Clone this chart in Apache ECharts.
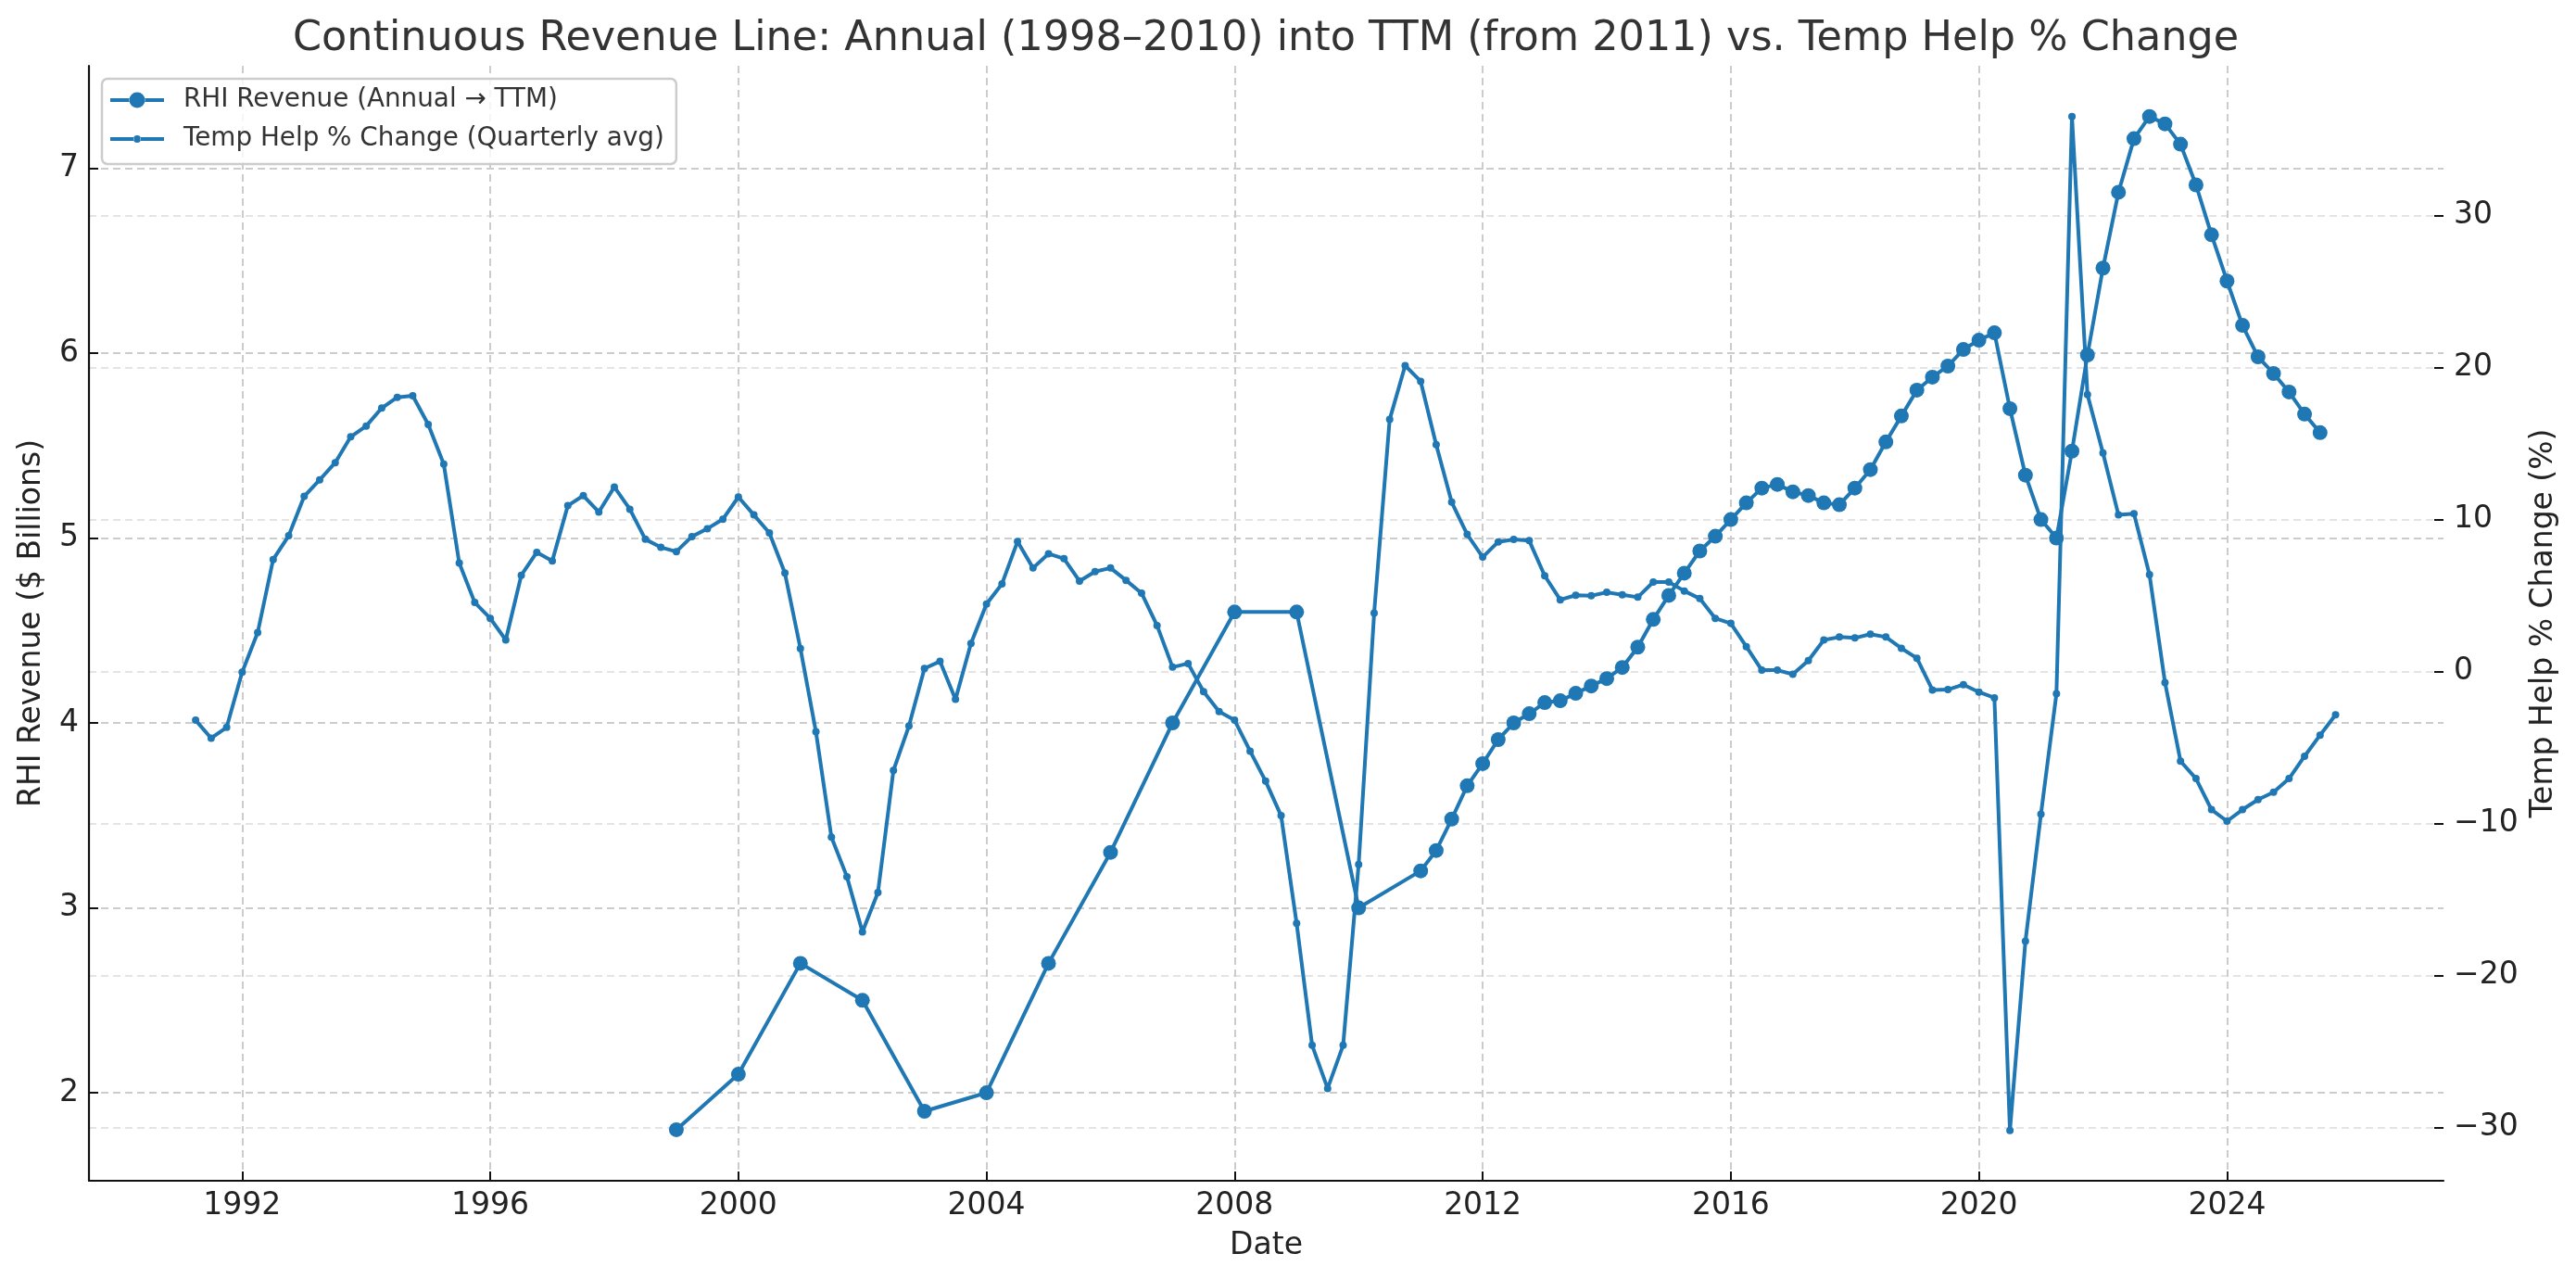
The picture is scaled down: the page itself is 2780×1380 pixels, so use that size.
<!DOCTYPE html>
<html>
<head>
<meta charset="utf-8">
<script src="https://cdn.jsdelivr.net/npm/echarts@6/dist/echarts.min.js"></script>
<style>
html,body{margin:0;padding:0;background:#fff;}
#chart{width:2780px;height:1380px;}
</style>
</head>
<body>
<div id="chart"></div>
<script>
// ---------------- DATA ----------------
// RHI annual revenue ($B), fiscal years 1998-2010 (plotted at fiscal year end)
const revAnnualYears = [1998, 1999, 2000, 2001, 2002, 2003, 2004, 2005, 2006, 2007, 2008, 2009, 2010];
const revAnnualValues = [1.8, 2.1, 2.7, 2.5, 1.9, 2.0, 2.7, 3.3, 4.0, 4.6, 4.6, 3.0, 3.2];

// RHI TTM revenue ($B), quarterly from 2011 Q1 to 2025 Q2 (plotted at quarter end)
const revTTMStart = [2011, 1];
const revTTMValues = [
  3.31, 3.48, 3.66, 3.78,
  3.91, 4.00, 4.05, 4.11,
  4.12, 4.16, 4.20, 4.24,
  4.30, 4.41, 4.56, 4.69,
  4.81, 4.93, 5.01, 5.10,
  5.19, 5.27, 5.29, 5.25,
  5.23, 5.19, 5.18, 5.27,
  5.37, 5.52, 5.66, 5.80,
  5.87, 5.93, 6.02, 6.07,
  6.11, 5.70, 5.34, 5.10,
  5.00, 5.47, 5.99, 6.46,
  6.87, 7.16, 7.28, 7.24,
  7.13, 6.91, 6.64, 6.39,
  6.15, 5.98, 5.89, 5.79,
  5.67, 5.57
];

// Temp help % change (quarterly avg), 1991 Q1 to 2025 Q3 (plotted at quarter end)
const tempStart = [1991, 1];
const tempValues = [
  -3.21, -4.39, -3.68, -0.05,
  2.55, 7.36, 8.92, 11.51,
  12.6, 13.73, 15.43, 16.14,
  17.32, 18.03, 18.13, 16.24,
  13.64, 7.13, 4.53, 3.49,
  2.07, 6.32, 7.83, 7.27,
  10.9, 11.56, 10.48, 12.13,
  10.67, 8.69, 8.16, 7.88,
  8.87, 9.39, 10.01, 11.47,
  10.29, 9.11, 6.47, 1.51,
  -3.96, -10.9, -13.5, -17.13,
  -14.54, -6.51, -3.59, 0.19,
  0.66, -1.84, 1.84, 4.43,
  5.76, 8.54, 6.80, 7.74,
  7.41, 5.94, 6.56, 6.80,
  5.99, 5.15, 3.02, 0.28,
  0.52, -1.33, -2.64, -3.21,
  -5.24, -7.22, -9.49, -16.57,
  -24.59, -27.43, -24.59, -12.70,
  3.84, 16.57, 20.11, 19.08,
  14.91, 11.13, 9.01, 7.52,
  8.52, 8.68, 8.60, 6.29,
  4.71, 5.01, 4.98, 5.20,
  5.04, 4.88, 5.88, 5.88,
  5.29, 4.79, 3.49, 3.16,
  1.63, 0.08, 0.08, -0.19,
  0.71, 2.07, 2.26, 2.20,
  2.45, 2.26, 1.52, 0.87,
  -1.22, -1.20, -0.87, -1.36,
  -1.74, -30.2, -17.74, -9.39,
  -1.47, 36.49, 18.20, 14.37,
  10.29, 10.37, 6.37, -0.73,
  -5.90, -7.05, -9.09, -9.85,
  -9.09, -8.43, -7.94, -7.05,
  -5.58, -4.19, -2.86
];

// Tick labels
const xTicks = [1992, 1996, 2000, 2004, 2008, 2012, 2016, 2020, 2024];
const leftTicks = [2, 3, 4, 5, 6, 7];
const rightTicks = [-30, -20, -10, 0, 10, 20, 30];

const titleText = 'Continuous Revenue Line: Annual (1998\u20132010) into TTM (from 2011) vs. Temp Help % Change';
const revName = 'RHI Revenue (Annual \u2192 TTM)';
const tempName = 'Temp Help % Change (Quarterly avg)';

// ---------------- BUILD ----------------
function quarterEnd(y, q) { return y + q / 4; }
function quarterSeries(start, values) {
  return values.map(function (v, i) {
    const qi = start[1] - 1 + i;
    const y = start[0] + Math.floor(qi / 4);
    const q = (qi % 4) + 1;
    return [quarterEnd(y, q), v];
  });
}
const revData = revAnnualYears.map(function (y, i) { return [y + 1, revAnnualValues[i]]; })
  .concat(quarterSeries(revTTMStart, revTTMValues));
const tempData = quarterSeries(tempStart, tempValues);

const FONT = 'DejaVu Sans';
const BLUE = '#1f77b4';
const TXT = '#222222';
function minusFmt(v) { return v < 0 ? '\u2212' + Math.abs(v) : String(v); }

// legend icons: line with circle marker (path scaled 1:1 in 58x20 box)
function lineCircleIcon(r) {
  const w = 58, cy = 10, cx = 29, h = 2;
  return 'path://' +
    'M0 ' + (cy - h) + 'L' + (cx - r + 0.5) + ' ' + (cy - h) + 'L' + (cx - r + 0.5) + ' ' + (cy + h) + 'L0 ' + (cy + h) + 'Z' +
    'M' + (cx + r - 0.5) + ' ' + (cy - h) + 'L' + w + ' ' + (cy - h) + 'L' + w + ' ' + (cy + h) + 'L' + (cx + r - 0.5) + ' ' + (cy + h) + 'Z' +
    'M' + (cx - r) + ' ' + cy + 'A' + r + ' ' + r + ' 0 1 0 ' + (cx + r) + ' ' + cy + 'A' + r + ' ' + r + ' 0 1 0 ' + (cx - r) + ' ' + cy + 'Z';
}

const chart = echarts.init(document.getElementById('chart'), null, { renderer: 'canvas' });

const option = {
  animation: false,
  backgroundColor: '#ffffff',
  textStyle: { fontFamily: FONT },
  title: {
    text: titleText,
    left: 1361,
    top: 15,
    textAlign: 'center',
    textStyle: { fontFamily: FONT, fontSize: 44.5, fontWeight: 'normal', color: '#333333' }
  },
  legend: {
    orient: 'vertical',
    left: 110,
    top: 85,
    itemWidth: 58,
    itemHeight: 20,
    itemGap: 14,
    padding: [9, 13, 13, 9],
    backgroundColor: 'rgba(255,255,255,0.8)',
    borderColor: '#cccccc',
    borderWidth: 2.5,
    borderRadius: 6,
    symbolKeepAspect: true,
    itemStyle: { borderWidth: 0 },
    textStyle: { fontFamily: FONT, fontSize: 27.8, lineHeight: 28, color: '#333333', padding: [0, 0, 0, 16] },
    data: [
      { name: revName, icon: lineCircleIcon(8.5) },
      { name: tempName, icon: lineCircleIcon(4) }
    ]
  },
  grid: { left: 96, right: 143, top: 71, bottom: 106, containLabel: false },
  xAxis: {
    type: 'value',
    min: 1989.53,
    max: 2027.49,
    name: 'Date',
    nameLocation: 'middle',
    nameGap: 54,
    nameTextStyle: { fontFamily: FONT, fontSize: 33, color: TXT },
    axisLine: { show: true, onZero: false, lineStyle: { color: '#111', width: 2.2 } },
    axisTick: { show: true, inside: true, length: 10, lineStyle: { color: '#111', width: 2 }, customValues: xTicks },
    axisLabel: { show: true, customValues: xTicks, margin: 11, fontFamily: FONT, fontSize: 33, color: TXT,
      formatter: function (v) { return String(Math.round(v)); } },
    splitLine: { show: true, lineStyle: { color: '#cccccc', width: 2, type: [8, 5] } }
  },
  yAxis: [
    {
      type: 'value',
      position: 'left',
      min: 1.524,
      max: 7.554,
      name: 'RHI Revenue ($ Billions)',
      nameLocation: 'middle',
      nameRotate: 90,
      nameGap: 45,
      nameTextStyle: { fontFamily: FONT, fontSize: 33, color: TXT },
      axisLine: { show: true, onZero: false, lineStyle: { color: '#111', width: 2.2 } },
      axisTick: { show: true, inside: true, length: 10, lineStyle: { color: '#111', width: 2 }, customValues: leftTicks },
      axisLabel: { show: true, customValues: leftTicks, margin: 11, fontFamily: FONT, fontSize: 33, color: TXT,
        formatter: function (v) { return String(Math.round(v)); } },
      splitLine: { show: true, lineStyle: { color: '#cccccc', width: 2, type: [8, 5] } }
    },
    {
      type: 'value',
      position: 'right',
      min: -33.5,
      max: 39.83,
      name: 'Temp Help % Change (%)',
      nameLocation: 'middle',
      nameRotate: 90,
      nameGap: 88,
      nameTextStyle: { fontFamily: FONT, fontSize: 33, color: TXT },
      axisLine: { show: false },
      axisTick: { show: true, inside: true, length: 10, lineStyle: { color: '#111', width: 2 }, customValues: rightTicks },
      axisLabel: { show: true, customValues: rightTicks, margin: 11, fontFamily: FONT, fontSize: 33, color: TXT,
        formatter: minusFmt },
      splitLine: { show: true, lineStyle: { color: '#e4e4e4', width: 2, type: [8, 5] } }
    }
  ],
  series: [
    {
      name: revName,
      type: 'line',
      yAxisIndex: 0,
      data: revData,
      symbol: 'circle',
      symbolSize: 16,
      showAllSymbol: true,
      color: BLUE,
      itemStyle: { color: BLUE, borderWidth: 0 },
      lineStyle: { color: BLUE, width: 4 },
      emphasis: { disabled: true },
      z: 3
    },
    {
      name: tempName,
      type: 'line',
      yAxisIndex: 1,
      data: tempData,
      symbol: 'circle',
      symbolSize: 8,
      showAllSymbol: true,
      color: BLUE,
      itemStyle: { color: BLUE, borderWidth: 0 },
      lineStyle: { color: BLUE, width: 4 },
      emphasis: { disabled: true },
      z: 4
    }
  ]
};
chart.setOption(option);
</script>
</body>
</html>
